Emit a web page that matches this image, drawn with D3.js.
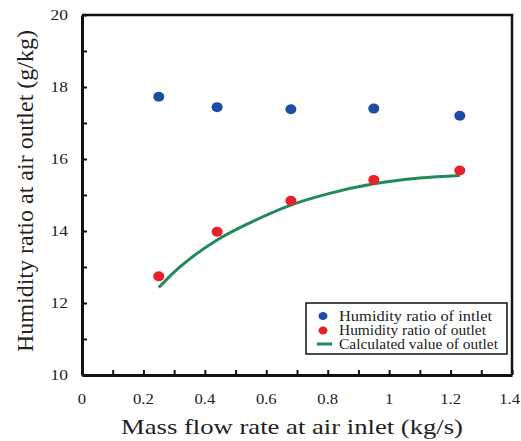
<!DOCTYPE html>
<html>
<head>
<meta charset="utf-8">
<script src="https://cdn.jsdelivr.net/npm/d3@7"></script>
<style>
  body { margin: 0; background: #fff; }
  text { font-family: "Liberation Serif", "Times New Roman", serif; fill: #222; }
</style>
</head>
<body>
<svg id="chart" width="521" height="441"></svg>
<script>
// measured points
var massFlow = [0.25, 0.44, 0.68, 0.95, 1.23];
var inletHumidity = [17.73, 17.44, 17.38, 17.40, 17.20];
var outletHumidity = [12.74, 13.98, 14.84, 15.42, 15.68];

// calculated curve
var calcX = [0.25, 0.30, 0.35, 0.44, 0.55, 0.68, 0.80, 0.95, 1.10, 1.23];
var calcY = [12.43, 12.86, 13.22, 13.75, 14.24, 14.72, 15.03, 15.31, 15.47, 15.54];

var xTicks = [0, 0.2, 0.4, 0.6, 0.8, 1, 1.2, 1.4];
var yTicks = [10, 12, 14, 16, 18, 20];

var legendLabels = ["Humidity ratio of intlet", "Humidity ratio of outlet", "Calculated value of outlet"];

var svg = d3.select("#chart");
var margin = {top: 15, right: 9, bottom: 66, left: 82};
var width = 521 - margin.left - margin.right;
var height = 441 - margin.top - margin.bottom;

var x = d3.scaleLinear().domain([0, 1.4]).range([0, width]);
var y = d3.scaleLinear().domain([10, 20]).range([height, 0]);

var g = svg.append("g")
    .attr("transform", "translate(" + margin.left + "," + margin.top + ")");

// frame top/right
g.append("path")
    .attr("d", "M0,0H" + width + "V" + height)
    .attr("fill", "none")
    .attr("stroke", "#111")
    .attr("stroke-width", 2.5);

// x axis, ticks every 0.1 pointing up
var xAxis = g.append("g")
    .attr("transform", "translate(0," + height + ")")
    .call(d3.axisBottom(x).tickValues(d3.range(0, 15).map(function(i) { return i / 10; }))
      .tickSize(-5).tickSizeOuter(0).tickFormat(""));
xAxis.select(".domain").attr("stroke", "#111").attr("stroke-width", 3);
xAxis.selectAll(".tick line").attr("stroke", "#111").attr("stroke-width", 2);

// tick labels are a little wider than the font, so stretch them
var xLabels = g.append("g").selectAll("text")
    .data(xTicks).enter().append("text")
    .attr("text-anchor", "middle")
    .style("font-size", "14.5px")
    .text(function(d) { return d; });
// keep the last label inside the window
xLabels.attr("transform", function(d) {
  var half = this.getComputedTextLength() * 1.15 / 2;
  var px = Math.min(x(d), width + margin.right - half - 1);
  return "translate(" + px + "," + (height + 29) + ")scale(1.15,1)";
});

// y axis, ticks every 1 pointing right
var yAxis = g.append("g")
    .call(d3.axisLeft(y).ticks(10).tickSize(-5).tickSizeOuter(0).tickFormat(""));
yAxis.select(".domain").attr("stroke", "#111").attr("stroke-width", 3);
yAxis.selectAll(".tick line").attr("stroke", "#111").attr("stroke-width", 2);

g.append("g").selectAll("text")
    .data(yTicks).enter().append("text")
    .attr("transform", function(d) { return "translate(-14," + (y(d) + 5) + ")scale(1.2,1)"; })
    .attr("text-anchor", "end")
    .style("font-size", "14.5px")
    .text(function(d) { return d; });

// axis titles
svg.append("text")
    .attr("x", 121)
    .attr("y", 434)
    .attr("textLength", 342)
    .attr("lengthAdjust", "spacingAndGlyphs")
    .style("font-size", "21.5px")
    .text("Mass flow rate at air inlet (kg/s)");

svg.append("text")
    .attr("transform", "translate(33,352)rotate(-90)")
    .attr("textLength", 322)
    .attr("lengthAdjust", "spacingAndGlyphs")
    .style("font-size", "23px")
    .text("Humidity ratio at air outlet (g/kg)");

// calculated curve
var calc = calcX.map(function(d, i) { return [d, calcY[i]]; });
g.append("path")
    .datum(calc)
    .attr("fill", "none")
    .attr("stroke", "#23895a")
    .attr("stroke-width", 3)
    .attr("d", d3.line()
      .x(function(d) { return x(d[0]); })
      .y(function(d) { return y(d[1]); })
      .curve(d3.curveMonotoneX));

g.append("g").selectAll("ellipse")
    .data(massFlow).enter().append("ellipse")
    .attr("cx", function(d) { return x(d); })
    .attr("cy", function(d, i) { return y(inletHumidity[i]); })
    .attr("rx", 5.5).attr("ry", 5)
    .attr("fill", "#1d4ca5");

g.append("g").selectAll("ellipse")
    .data(massFlow).enter().append("ellipse")
    .attr("cx", function(d) { return x(d); })
    .attr("cy", function(d, i) { return y(outletHumidity[i]); })
    .attr("rx", 5.5).attr("ry", 5)
    .attr("fill", "#e8202a");

// legend
var legend = svg.append("g").attr("transform", "translate(306,303)");
legend.append("rect")
    .attr("width", 201).attr("height", 51)
    .attr("fill", "#fff").attr("stroke", "#111").attr("stroke-width", 1.5);

var legendY = [13, 27.5, 41];
var legendWidths = [153, 147, 159];
legend.append("ellipse").attr("cx", 17).attr("cy", legendY[0]).attr("rx", 4.5).attr("ry", 4).attr("fill", "#1d4ca5");
legend.append("ellipse").attr("cx", 17).attr("cy", legendY[1]).attr("rx", 4.5).attr("ry", 4).attr("fill", "#e8202a");
legend.append("line").attr("x1", 11).attr("x2", 26).attr("y1", legendY[2]).attr("y2", legendY[2])
    .attr("stroke", "#23895a").attr("stroke-width", 3);

legend.selectAll("text.lab")
    .data(legendLabels).enter().append("text")
    .attr("class", "lab")
    .attr("x", 33)
    .attr("y", function(d, i) { return legendY[i] + 4.5; })
    .attr("textLength", function(d, i) { return legendWidths[i]; })
    .attr("lengthAdjust", "spacingAndGlyphs")
    .style("font-size", "14px")
    .text(function(d) { return d; });
</script>
</body>
</html>
